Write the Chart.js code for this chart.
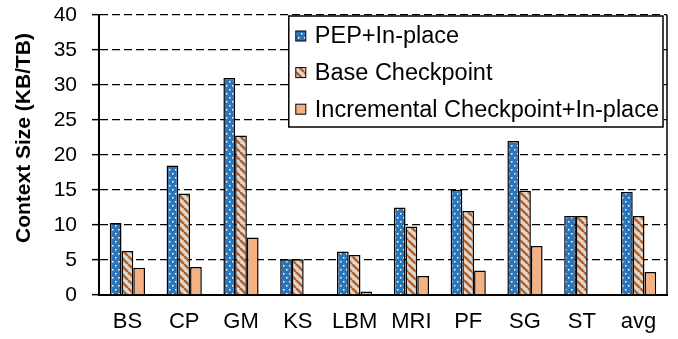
<!DOCTYPE html>
<html>
<head>
<meta charset="utf-8">
<script src="https://cdn.jsdelivr.net/npm/chart.js@4/dist/chart.umd.min.js"></script>
<style>
  html, body { margin: 0; padding: 0; background: #fff; }
  #wrap { width: 678px; height: 339px; }
</style>
</head>
<body>
<div id="wrap"><canvas id="sizeChart" width="678" height="339"></canvas></div>
<script>
// ================= DATA =================
const categories = ["BS", "CP", "GM", "KS", "LBM", "MRI", "PF", "SG", "ST", "avg"];
const seriesNames = ["PEP+In-place", "Base Checkpoint", "Incremental Checkpoint+In-place"];
const pepInPlace = [10.3, 18.5, 31.0, 5.1, 6.2, 12.5, 15.0, 22.0, 11.3, 14.7];
const baseCheckpoint = [6.3, 14.5, 22.8, 5.1, 5.7, 9.8, 12.0, 14.9, 11.3, 11.3];
const incrementalInPlace = [3.9, 4.0, 8.2, null, 0.5, 2.7, 3.5, 7.0, null, 3.3];
const yTicks = [0, 5, 10, 15, 20, 25, 30, 35, 40];
const yTitle = "Context Size (KB/TB)";

const FONT = "'Liberation Sans', Arial, sans-serif";

// ================= PATTERNS =================
function dotPattern() {
  const c = document.createElement("canvas");
  c.width = 6; c.height = 8;
  const g = c.getContext("2d");
  g.fillStyle = "#2E75B6";
  g.fillRect(0, 0, 6, 8);
  g.fillStyle = "#ffffff";
  g.fillRect(1, 1, 1.5, 1.5);
  g.fillRect(4, 5, 1.5, 1.5);
  return g.createPattern(c, "repeat");
}

function stripePattern() {
  const c = document.createElement("canvas");
  c.width = 8; c.height = 8;
  const g = c.getContext("2d");
  g.fillStyle = "#D9D9D9";
  g.fillRect(0, 0, 8, 8);
  g.strokeStyle = "#C55A11";
  g.lineWidth = 2.4;
  g.beginPath();
  [-8, 0, 8].forEach(o => { g.moveTo(o, 0); g.lineTo(o + 8, 8); });
  g.stroke();
  return g.createPattern(c, "repeat");
}

// ================= PLUGINS =================
// legend drawn inside the plot, top-right, on a white box
const boxLegend = {
  id: "boxLegend",
  afterDatasetsDraw(chart) {
    const { ctx, chartArea } = chart;
    const sets = chart.data.datasets;
    ctx.save();
    ctx.font = "23.5px " + FONT;
    const textW = Math.max(...sets.map(d => ctx.measureText(d.label).width));
    const sw = 10, padL = 7, gap = 9, padR = 4, rowH = 36.6;
    const w = padL + sw + gap + textW + padR;
    const h = 111;
    const x = chartArea.right - 4 - w;
    const y = chartArea.top + 1;
    ctx.fillStyle = "#fff";
    ctx.fillRect(x, y, w, h);
    ctx.strokeStyle = "#000";
    ctx.lineWidth = 1.5;
    ctx.strokeRect(x, y, w, h);
    sets.forEach((d, i) => {
      const cy = y + 20 + i * rowH;
      ctx.fillStyle = d.backgroundColor;
      ctx.fillRect(x + padL, cy - sw / 2, sw, sw);
      ctx.lineWidth = 1;
      ctx.strokeRect(x + padL, cy - sw / 2, sw, sw);
      ctx.fillStyle = "#000";
      ctx.textBaseline = "middle";
      ctx.fillText(d.label, x + padL + sw + gap, cy + 1);
    });
    ctx.restore();
  }
};

// right frame line + rotated y title
const frame = {
  id: "frame",
  afterDraw(chart) {
    const { ctx, chartArea } = chart;
    ctx.save();
    ctx.strokeStyle = "#000";
    ctx.lineWidth = 1.5;
    ctx.beginPath();
    ctx.moveTo(chartArea.right, chartArea.top);
    ctx.lineTo(chartArea.right, chartArea.bottom);
    ctx.stroke();

    ctx.translate(24, (chartArea.top + chartArea.bottom) / 2 - 17);
    ctx.rotate(-Math.PI / 2);
    ctx.font = "bold 21px " + FONT;
    ctx.fillStyle = "#000";
    ctx.textAlign = "center";
    ctx.textBaseline = "middle";
    ctx.fillText(yTitle, 0, 0);
    ctx.restore();
  }
};

// ================= CHART =================
const fills = [dotPattern(), stripePattern(), "#F4B183"];
const values = [pepInPlace, baseCheckpoint, incrementalInPlace];

new Chart(document.getElementById("sizeChart"), {
  type: "bar",
  data: {
    labels: categories,
    datasets: seriesNames.map((name, i) => ({
      label: name,
      data: values[i],
      backgroundColor: fills[i],
      borderColor: "#000",
      borderWidth: 1.5,
      categoryPercentage: 0.62,
      barPercentage: 1.0
    }))
  },
  options: {
    responsive: false,
    animation: false,
    layout: { padding: { left: 0, right: 11, top: 15, bottom: 0 } },
    plugins: {
      legend: { display: false },
      tooltip: { enabled: false }
    },
    scales: {
      x: {
        grid: { display: false, drawTicks: false },
        border: { color: "#000", width: 2 },
        ticks: {
          color: "#000",
          font: { family: FONT, size: 22 },
          padding: 14,
          maxRotation: 0
        },
        afterFit: s => {
          s.height = 44;
          s.paddingLeft = 0;
          s.paddingRight = 0;
        }
      },
      y: {
        min: 0,
        max: 40,
        afterBuildTicks: s => { s.ticks = yTicks.map(v => ({ value: v })); },
        grid: {
          color: "#000",
          lineWidth: 1.3,
          tickLength: 7,
          tickColor: "#000",
          tickWidth: 1.5,
          tickBorderDash: []
        },
        border: { color: "#000", width: 2, dash: [8, 4] },
        ticks: {
          color: "#000",
          font: { family: FONT, size: 21 },
          padding: 15
        },
        afterFit: s => {
          s.width = 99;
          s.paddingTop = 0;
          s.paddingBottom = 0;
        }
      }
    }
  },
  plugins: [boxLegend, frame]
});
</script>
</body>
</html>
